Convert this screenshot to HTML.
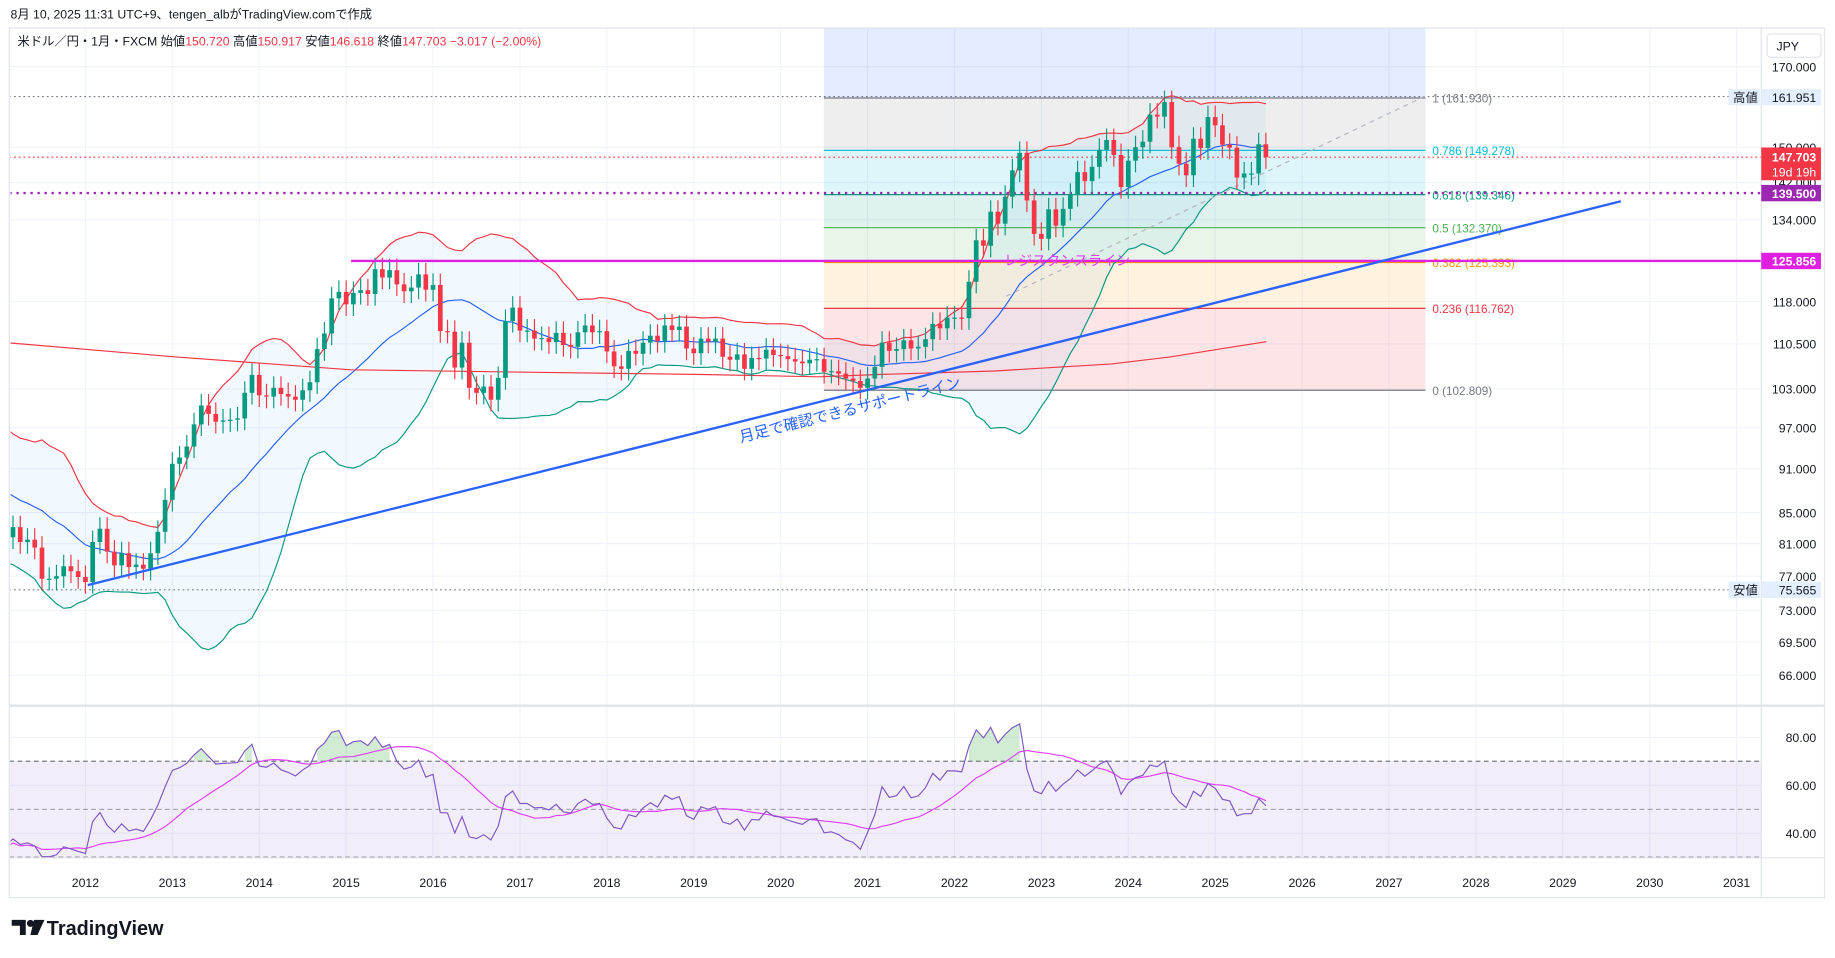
<!DOCTYPE html>
<html><head><meta charset="utf-8">
<style>
html,body{margin:0;padding:0;background:#fff;overflow:hidden}
svg{display:block}
text{font-family:"Liberation Sans","Noto Sans CJK JP",sans-serif}
</style></head>
<body>
<svg id="s" width="1835" height="958" viewBox="0 0 1568 818.6" xmlns="http://www.w3.org/2000/svg"></svg>
<script>
const S=document.getElementById('s');let H='<defs><clipPath id="cp"><rect x="9" y="24" width="1496" height="579"/></clipPath><clipPath id="cr"><rect x="9" y="604" width="1496" height="129"/></clipPath></defs>';
const L2=Math.log(170);
const py=p=>57+(L2-Math.log(p))*549.7;
const ry=v=>630+(80-v)*2.05;
const mx=m=>73+m*74.26/12;
const pre=[96.4,94.7,93.0,89.7,90.1,86.4,93.1, 90.3,89.0,93.4,93.9,91.2,88.4,86.4,84.2,83.5,80.4,83.6,81.1, 82.0];
const main=[81.8,83.1,81.2,81.5,80.5,76.7,76.7,77.0,78.2,77.6,76.9,
76.3,81.2,82.9,80.0,78.3,79.8,78.1,78.4,77.9,79.8,82.5,86.7,
91.7,92.6,94.2,97.5,100.4,99.1,97.9,98.1,98.2,98.4,102.4,105.3,
102.0,101.8,103.2,102.2,101.8,101.3,102.8,104.1,109.6,112.3,118.6,119.8,
117.5,119.6,120.1,119.4,124.1,122.5,123.9,121.2,119.9,120.6,123.1,120.2,
121.1,112.7,112.6,106.5,110.7,103.2,102.4,103.4,101.3,104.8,114.5,116.9,
112.8,112.8,111.4,111.5,110.8,112.4,110.3,110.0,112.5,113.7,112.5,112.7,
109.2,106.7,106.3,109.3,108.8,110.7,111.9,111.0,113.7,112.9,113.5,109.7,
108.9,111.4,110.9,111.4,108.3,107.8,108.7,106.3,108.1,108.0,109.5,108.6,
108.4,107.9,107.5,107.2,107.8,107.9,105.8,105.9,105.5,104.7,104.3,103.2,
104.7,106.6,110.7,109.3,109.6,111.1,109.7,110.0,111.3,114.0,113.2,115.1,
115.1,115.0,121.7,129.8,128.7,135.7,133.2,138.9,144.7,148.7,138.1,131.1,
130.1,136.2,132.8,136.3,139.3,144.3,142.3,145.5,149.4,151.7,148.2,141.0,
146.9,150.0,151.3,157.8,157.3,160.9,150.0,146.2,143.6,152.0,149.8,157.2,
155.2,150.6,149.9,143.1,144.0,144.0,150.7,147.7];
const all=pre.concat(main);const off=pre.length; const m0=-11;
let g='';
const yrs=[];for(let y=2012;y<=2031;y++){const x=mx((y-2012)*12);g+=`<line x1="${x}" y1="24" x2="${x}" y2="733" stroke="#f0f3fa"/>`;yrs.push([y,x]);}
const pl=[170,150,142,134,118,110.5,103,97,91,85,81,77,73,69.5,66];
pl.forEach(p=>{g+=`<line x1="8" y1="${py(p)}" x2="1505" y2="${py(p)}" stroke="#f0f3fa"/>`});
[80,60,40].forEach(v=>{g+=`<line x1="8" y1="${ry(v)}" x2="1505" y2="${ry(v)}" stroke="#f0f3fa"/>`});
H+=g;
const fx1=704,fx2=1218;
const fib=[[1,161.93,'#787b86','rgba(120,123,134,0.13)'],[0.786,149.278,'#00bcd4','rgba(0,188,212,0.13)'],[0.618,139.346,'#089981','rgba(8,153,129,0.13)'],[0.5,132.37,'#4caf50','rgba(76,175,80,0.13)'],[0.382,125.393,'#ff9800','rgba(255,152,0,0.13)'],[0.236,116.762,'#f23645','rgba(242,54,69,0.13)'],[0,102.809,'#787b86','']];
H+=`<rect x="${fx1}" y="24" width="${fx2-fx1}" height="${py(161.93)-24}" fill="rgba(41,98,255,0.13)"/>`;
for(let i=0;i<fib.length-1;i++){const a=py(fib[i][1]),b=py(fib[i+1][1]);H+=`<rect x="${fx1}" y="${a}" width="${fx2-fx1}" height="${b-a}" fill="${fib[i][3]}"/>`;}
fib.forEach(f=>{const y=py(f[1]);H+=`<line x1="${fx1}" y1="${y}" x2="${fx2}" y2="${y}" stroke="${f[2]}" stroke-width="1"/><text x="1224" y="${y+4}" font-size="10" fill="${f[2]}">${f[0]} (${f[1].toFixed(3)})</text>`;});
H+='<g clip-path="url(#cp)">';
const N=20;let up=[],lo=[],ba=[];
for(let i=0;i<main.length;i++){const k=i+off;const sl=all.slice(k-N+1,k+1);const m=sl.reduce((a,b)=>a+b)/N;const sd=Math.sqrt(sl.reduce((a,b)=>a+(b-m)*(b-m),0)/N);const x=mx(m0+i);ba.push([x,py(m)]);up.push([x,py(m+2*sd)]);lo.push([x,py(m-2*sd)]);}
const ptsS=a=>a.map(p=>p[0].toFixed(1)+','+p[1].toFixed(1)).join(' ');
H+=`<polygon points="${ptsS(up)} ${ptsS(lo.slice().reverse())}" fill="rgba(33,150,243,0.06)"/>`;
H+=`<polyline points="${ptsS(up)}" fill="none" stroke="#f23645" stroke-width="1"/>`;
H+=`<polyline points="${ptsS(lo)}" fill="none" stroke="#089981" stroke-width="1"/>`;
H+=`<polyline points="${ptsS(ba)}" fill="none" stroke="#2962ff" stroke-width="1"/>`;
H+=`<polyline points="8,293 150,305 300,316 450,318 600,320 700,322 750,320 850,317 950,311 1000,305 1050,297 1082,292" fill="none" stroke="#f23645" stroke-width="1"/>`;
H+=`<line x1="8" y1="82.5" x2="1480" y2="82.5" stroke="#787b86" stroke-dasharray="1.5,2.5"/>`;
H+=`<line x1="8" y1="504" x2="1480" y2="504" stroke="#787b86" stroke-dasharray="1.5,2.5"/>`;
H+=`<line x1="8" y1="${py(147.703)}" x2="1505" y2="${py(147.703)}" stroke="#f23645" stroke-dasharray="1.5,2.5"/>`;
H+=`<line x1="8" y1="165" x2="1505" y2="165" stroke="#9c27b0" stroke-width="2" stroke-dasharray="2,4"/>`;
H+=`<line x1="860" y1="253" x2="1218" y2="82" stroke="#b2b5be" stroke-dasharray="4,4"/>`;
for(let i=0;i<main.length;i++){const c=main[i],o=all[i+off-1];const x=mx(m0+i);const hi=Math.max(o,c)*1.018,lw=Math.min(o,c)*0.982;const col=c>=o?'#089981':'#f23645';const yt=py(Math.max(o,c)),yb=py(Math.min(o,c));H+=`<line x1="${x}" y1="${py(hi)}" x2="${x}" y2="${py(lw)}" stroke="${col}"/><rect x="${x-2}" y="${yt}" width="4" height="${Math.max(1,yb-yt)}" fill="${col}"/>`;}
H+=`<line x1="300" y1="223" x2="1505" y2="223" stroke="#e020e0" stroke-width="2"/>`;
H+=`<line x1="75" y1="500" x2="1385" y2="172" stroke="#2962ff" stroke-width="2"/>`;
H+=`<text x="858" y="227" font-size="12" fill="#e040fb">レジスタンスライン</text>`;
const ang=Math.atan2(172-500,1385-75)*180/Math.PI;
H+=`<text transform="translate(633,378) rotate(${ang})" font-size="13" fill="#2962ff">月足で確認できるサポートライン</text>`;
H+='</g>';
H+=`<rect x="8" y="${ry(70)}" width="1497" height="${ry(30)-ry(70)}" fill="rgba(126,87,194,0.1)"/>`;
[70,50,30].forEach(v=>{H+=`<line x1="8" y1="${ry(v)}" x2="1505" y2="${ry(v)}" stroke="#787b86" stroke-dasharray="4,3" stroke-width="${v==50?0.7:1}"/>`});
let ag=0,al=0;for(let k=1;k<=14;k++){const d=all[k]-all[k-1];if(d>0)ag+=d;else al-=d;}ag/=14;al/=14;
let rs=[];for(let k=15;k<all.length;k++){const d=all[k]-all[k-1];ag=(ag*13+Math.max(d,0))/14;al=(al*13+Math.max(-d,0))/14;rs[k]=100-100/(1+ag/al);}
let rp=[],rm=[];for(let i=0;i<main.length;i++){const k=i+off;const v=rs[k];rp.push([mx(m0+i),ry(v),v]);let s=0;for(let j=0;j<14;j++)s+=rs[k-j]||v;rm.push([mx(m0+i),ry(s/14)]);}
H+='<g clip-path="url(#cr)">';
let seg=[];rp.forEach(p=>{if(p[2]>70)seg.push(p);else{if(seg.length){H+=`<polygon points="${seg[0][0]},${ry(70)} ${ptsS(seg)} ${seg[seg.length-1][0]},${ry(70)}" fill="rgba(76,175,80,0.25)"/>`;}seg=[];}});
H+=`<polyline points="${ptsS(rm)}" fill="none" stroke="#e040fb" stroke-width="1"/>`;
H+=`<polyline points="${ptsS(rp)}" fill="none" stroke="#7e57c2" stroke-width="1"/>`;
H+='</g>';
H+=`<rect x="8" y="24" width="1551" height="743" fill="none" stroke="#e0e3eb"/>`;
H+=`<line x1="8" y1="603" x2="1559" y2="603" stroke="#e0e3eb" stroke-width="2"/>`;
H+=`<line x1="8" y1="733" x2="1559" y2="733" stroke="#e0e3eb"/>`;
H+=`<line x1="1505" y1="24" x2="1505" y2="767" stroke="#e0e3eb"/>`;
pl.forEach(p=>{H+=`<text x="1552" y="${py(p)+4}" font-size="10.5" fill="#131722" text-anchor="end">${p.toFixed(3)}</text>`});
[[80,'80.00'],[60,'60.00'],[40,'40.00']].forEach(a=>{H+=`<text x="1552" y="${ry(a[0])+4}" font-size="10.5" fill="#131722" text-anchor="end">${a[1]}</text>`});
yrs.forEach(a=>{H+=`<text x="${a[1]}" y="758" font-size="10.5" fill="#131722" text-anchor="middle">${a[0]}</text>`});
H+=`<rect x="1510" y="29" width="46" height="20" rx="3" fill="#fff" stroke="#e0e3eb"/><text x="1518" y="43" font-size="10.5" fill="#131722">JPY</text>`;
H+=`<rect x="1477" y="76" width="27" height="14" fill="#e3effd"/><text x="1481" y="87" font-size="10.5" fill="#131722">高値</text><rect x="1505" y="76" width="51" height="14" fill="#e3effd"/><text x="1552" y="87" font-size="10.5" fill="#131722" text-anchor="end">161.951</text>`;
H+=`<rect x="1477" y="497" width="27" height="14" fill="#e3effd"/><text x="1481" y="508" font-size="10.5" fill="#131722">安値</text><rect x="1505" y="497" width="51" height="14" fill="#e3effd"/><text x="1552" y="508" font-size="10.5" fill="#131722" text-anchor="end">75.565</text>`;
H+=`<rect x="1505" y="126" width="51" height="28" fill="#f23645"/><text x="1552" y="138" font-size="10.5" font-weight="bold" fill="#fff" text-anchor="end">147.703</text><text x="1552" y="151" font-size="10.5" fill="#fff" text-anchor="end">19d 19h</text>`;
H+=`<rect x="1505" y="158" width="51" height="14" fill="#9c27b0"/><text x="1552" y="169" font-size="10.5" font-weight="bold" fill="#fff" text-anchor="end">139.500</text>`;
H+=`<rect x="1505" y="216" width="51" height="14" fill="#e020e0"/><text x="1552" y="227" font-size="10.5" font-weight="bold" fill="#fff" text-anchor="end">125.856</text>`;
H+=`<text x="9" y="16" font-size="10.5" fill="#131722">8月 10, 2025 11:31 UTC+9、tengen_albがTradingView.comで作成</text>`;
H+=`<text x="15" y="39" font-size="10.5" fill="#131722">米ドル／円・1月・FXCM  始値<tspan fill="#f23645">150.720</tspan>  高値<tspan fill="#f23645">150.917</tspan>  安値<tspan fill="#f23645">146.618</tspan>  終値<tspan fill="#f23645">147.703  −3.017 (−2.00%)</tspan></text>`;
H+=`<g fill="#131722"><path d="M10 786h12v13h-5v-8h-7z"/><circle cx="26" cy="789" r="3"/><path d="M29 786h9l-6 13h-6z"/></g><text x="40" y="799" font-size="17" font-weight="bold" fill="#131722">TradingView</text>`;
S.innerHTML=H;
</script>
</body></html>
